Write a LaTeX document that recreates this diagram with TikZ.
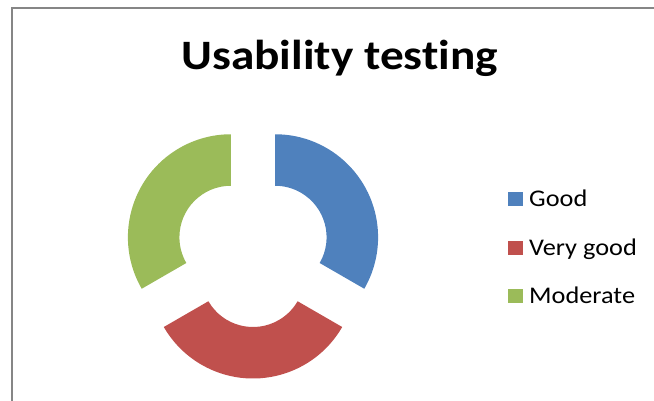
\documentclass[tikz,border=0pt]{standalone}
\usepackage{fontspec}
\usetikzlibrary{calc}
\setmainfont{Carlito}
\newfontfamily\titlefont[FakeStretch=1.13,Ligatures=NoCommon]{Carlito}
\newfontfamily\legendfont[FakeStretch=1.1,Ligatures=NoCommon]{Carlito}
\definecolor{sgood}{HTML}{4F81BD}
\definecolor{svgood}{HTML}{C0504D}
\definecolor{smod}{HTML}{9BBB59}
\definecolor{frame}{HTML}{868686}
\tikzset{
  legsq/.style={minimum size=14.5bp, inner sep=0pt, outer sep=0pt},
  legtxt/.style={anchor=base west, inner sep=0pt, font=\legendfont\fontsize{24}{24}\selectfont},
}
\begin{document}
\begin{tikzpicture}[x=1bp,y=1bp]
  \useasboundingbox (0,0) rectangle (654,400);
  % chart frame (left and top edges visible)
  \draw[frame, line width=1.4bp] (12,-5) -- (12,392) -- (660,392);
  % title
  \node[font=\titlefont\bfseries\fontsize{42}{42}\selectfont, anchor=base, inner sep=0pt] (title) at (339.6,330.7) {Usability testing};
  % exploded doughnut
  \def\Ro{103}
  \def\Ri{51.5}
  \def\dd{25.5}
  \coordinate (c) at (253,150);
  \coordinate (cg) at ($(c)+(30:\dd)$);
  \coordinate (cv) at ($(c)+(270:\dd)$);
  \coordinate (cm) at ($(c)+(150:\dd)$);
  \fill[sgood] ($(cg)+(90:\Ro)$) arc[start angle=90, end angle=-30, radius=\Ro]
     -- ($(cg)+(-30:\Ri)$) arc[start angle=-30, end angle=90, radius=\Ri] -- cycle;
  \fill[svgood] ($(cv)+(-30:\Ro)$) arc[start angle=-30, end angle=-150, radius=\Ro]
     -- ($(cv)+(-150:\Ri)$) arc[start angle=-150, end angle=-30, radius=\Ri] -- cycle;
  \fill[smod] ($(cm)+(210:\Ro)$) arc[start angle=210, end angle=90, radius=\Ro]
     -- ($(cm)+(90:\Ri)$) arc[start angle=90, end angle=210, radius=\Ri] -- cycle;
  % legend
  \node[legsq, fill=sgood] (k1) at (515.5,201) {};
  \node[legsq, fill=svgood] (k2) at (515.5,152) {};
  \node[legsq, fill=smod] (k3) at (515.5,104) {};
  \node[legtxt] (t1) at (529,193.5) {Good};
  \node[legtxt] (t2) at (529,144.5) {Very good};
  \node[legtxt] (t3) at (529,96.5) {Moderate};
\end{tikzpicture}
\end{document}
